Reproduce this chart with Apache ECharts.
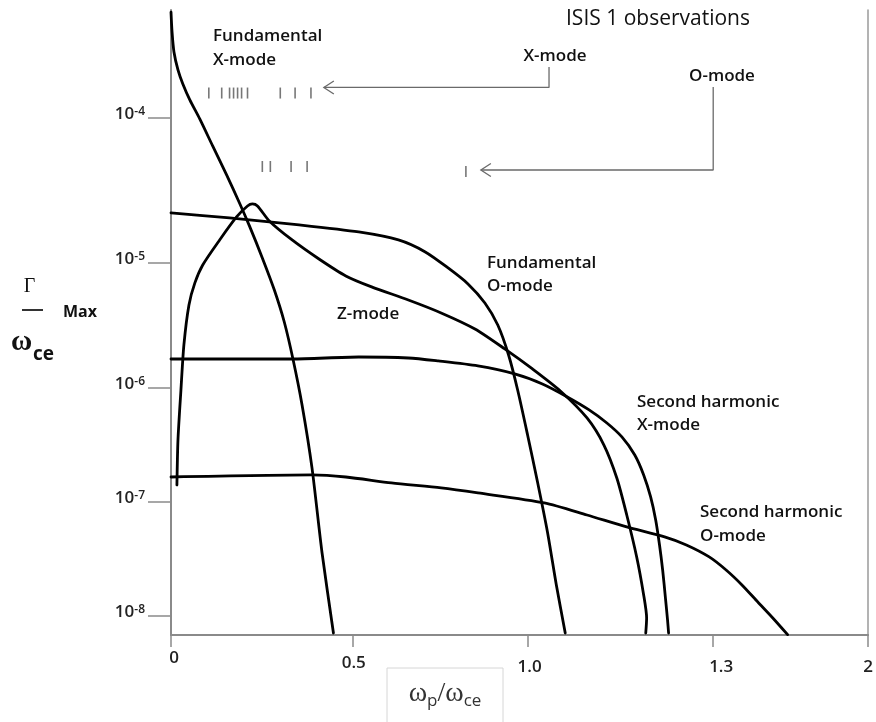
<!DOCTYPE html>
<html><head><meta charset="utf-8">
<script src="https://cdn.jsdelivr.net/npm/echarts@6/dist/echarts.min.js"></script>
<style>html,body{margin:0;padding:0;background:#fff}#c{width:876px;height:722px}</style>
</head><body><div id="c"></div>
<script>
// Schematic axes: x in drawn tick-slot units, y in drawn decades (log10 of Γ/ωce)
const xTickPos = [0, 1.043, 2.046, 3.111, 4];
const xTickLabels = ['0', '0.5', '1.0', '1.3', '2'];
const yTickPos = [-8, -7.084, -6.169, -5.165, -4.0];
const yTickExp = ['-8', '-7', '-6', '-5', '-4'];

const fundamentalX = [[0.000,-3.15],[0.006,-3.309],[0.017,-3.470],[0.040,-3.614],[0.068,-3.727],[0.108,-3.855],[0.165,-4.008],[0.239,-4.225],[0.319,-4.458],[0.393,-4.683],[0.450,-4.867],[0.524,-5.124],[0.593,-5.382],[0.650,-5.639],[0.701,-5.944],[0.752,-6.305],[0.809,-6.811],[0.866,-7.486],[0.932,-8.137]];
const zMode = [[0.034,-6.948],[0.040,-6.586],[0.057,-6.185],[0.074,-5.823],[0.103,-5.502],[0.137,-5.325],[0.182,-5.181],[0.279,-4.980],[0.376,-4.795],[0.439,-4.707],[0.467,-4.691],[0.496,-4.707],[0.564,-4.827],[0.695,-4.980],[0.849,-5.133],[1.003,-5.269],[1.151,-5.357],[1.362,-5.462],[1.550,-5.566],[1.744,-5.695],[1.915,-5.855],[2.074,-6.016],[2.234,-6.193],[2.387,-6.410],[2.484,-6.627],[2.558,-6.892],[2.615,-7.189],[2.672,-7.526],[2.712,-7.831],[2.729,-8.016],[2.724,-8.137]];
const fundamentalO = [[0.000,-4.763],[0.336,-4.803],[0.735,-4.859],[1.077,-4.916],[1.305,-4.980],[1.459,-5.076],[1.590,-5.205],[1.704,-5.333],[1.801,-5.486],[1.875,-5.663],[1.937,-5.904],[1.989,-6.185],[2.046,-6.546],[2.103,-6.924],[2.160,-7.325],[2.211,-7.751],[2.262,-8.137]];
const secondX = [[0.000,-5.936],[0.695,-5.936],[1.077,-5.920],[1.362,-5.928],[1.533,-5.952],[1.761,-5.992],[1.972,-6.056],[2.131,-6.137],[2.274,-6.241],[2.399,-6.345],[2.501,-6.450],[2.587,-6.562],[2.661,-6.707],[2.712,-6.867],[2.752,-7.044],[2.781,-7.229],[2.803,-7.430],[2.821,-7.631],[2.838,-7.871],[2.849,-8.032],[2.855,-8.137]];
const secondO = [[0.000,-6.884],[0.809,-6.867],[1.003,-6.884],[1.265,-6.932],[1.550,-6.972],[1.761,-7.012],[2.142,-7.092],[2.387,-7.189],[2.615,-7.285],[2.832,-7.365],[2.957,-7.430],[3.088,-7.526],[3.185,-7.631],[3.276,-7.751],[3.367,-7.888],[3.453,-8.016],[3.538,-8.150]];

// ISIS 1 observations
const obsXmode = [[0.217,-3.80],[0.291,-3.80],[0.336,-3.80],[0.359,-3.80],[0.382,-3.80],[0.405,-3.80],[0.439,-3.80],[0.627,-3.80],[0.712,-3.80],[0.803,-3.80]];
const obsOmode = [[0.524,-4.39],[0.570,-4.39],[0.689,-4.39],[0.781,-4.39],[1.692,-4.43]];

// annotation arrows (label foot -> corner -> tip)
const arrowXmode = [[2.169,-3.590],[2.169,-3.755],[0.877,-3.755]];
const arrowOmode = [[3.111,-3.751],[3.111,-4.418],[1.778,-4.418]];

const chart = echarts.init(document.getElementById('c'), null, {renderer: 'canvas'});
const axisGray = '#8a8a8a';
const curveStyle = {color: '#000', width: 2.8, cap: 'round', join: 'round'};
function curve(name, data) {
  return {name, type: 'line', data, smooth: 0.25, symbol: 'none', lineStyle: curveStyle, z: 3, silent: true};
}
function arrowLine(name, data) {
  return {name, type: 'line', data, smooth: false, symbol: 'none', lineStyle: {color: '#6a6a6a', width: 1.3}, z: 2, silent: true};
}
function obs(name, data) {
  return {name, type: 'scatter', data, symbol: 'rect', symbolSize: [1.6, 11], itemStyle: {color: '#555'}, z: 2, silent: true};
}

const option = {
  animation: false,
  backgroundColor: '#fff',
  grid: {left: 171, right: 3, top: 10, bottom: 87, containLabel: false},
  xAxis: {
    type: 'value', min: 0, max: 4,
    axisLine: {show: true, lineStyle: {color: axisGray, width: 2}},
    axisTick: {show: true, customValues: xTickPos, length: 12, lineStyle: {color: axisGray, width: 1.5}},
    axisLabel: {
      customValues: xTickPos, showMinLabel: true, showMaxLabel: true,
      margin: 32, verticalAlign: 'middle',
      fontFamily: 'Open Sans', fontSize: 17, fontWeight: 600, color: '#222',
      formatter: v => {
        const i = xTickPos.findIndex(p => Math.abs(p - v) < 1e-6);
        return i < 0 ? '' : '{t' + i + '|' + xTickLabels[i] + '}';
      },
      rich: {t0: {padding: [0, 0, 18, 6]}, t1: {padding: [0, 0, 7, 2]}, t2: {padding: [0, 0, 0, 4]}, t3: {padding: [0, 0, 0, 16]}, t4: {}}
    },
    splitLine: {show: false}
  },
  yAxis: [{
    type: 'value', min: -8.153, max: -3.133,
    axisLine: {show: true, lineStyle: {color: axisGray, width: 2}},
    axisTick: {show: true, customValues: yTickPos, length: 23, lineStyle: {color: axisGray, width: 1.5}},
    axisLabel: {
      customValues: yTickPos, showMinLabel: true, showMaxLabel: true,
      margin: 26, verticalAlign: 'middle', padding: [0, 0, 8, 0],
      fontFamily: 'Open Sans', fontSize: 17, fontWeight: 600, color: '#222',
      formatter: v => {
        const i = yTickPos.findIndex(p => Math.abs(p - v) < 1e-6);
        return i < 0 ? '' : '{b|10}{s|' + yTickExp[i] + '}';
      },
      rich: {b: {fontSize: 17, lineHeight: 16}, s: {fontSize: 12, lineHeight: 12, verticalAlign: 'top'}}
    },
    splitLine: {show: false}
  }, {
    type: 'value', min: -8.153, max: -3.133, position: 'right',
    axisLine: {show: true, lineStyle: {color: '#9a9a9a', width: 1.5}},
    axisTick: {show: false}, axisLabel: {show: false}, splitLine: {show: false}
  }],
  series: [
    curve('Fundamental X-mode', fundamentalX),
    curve('Z-mode', zMode),
    curve('Fundamental O-mode', fundamentalO),
    curve('Second harmonic X-mode', secondX),
    curve('Second harmonic O-mode', secondO),
    obs('X-mode observations', obsXmode),
    obs('O-mode observations', obsOmode),
    arrowLine('X-mode arrow', arrowXmode),
    arrowLine('O-mode arrow', arrowOmode)
  ]
};
chart.setOption(option);

const lab = (id, text, x, y, opts) => Object.assign({
  type: 'text', id, z: 10, silent: true,
  style: Object.assign({text, x, y, fill: '#111', font: '600 17px "Open Sans"', align: 'left', verticalAlign: 'middle', textAlign: 'left', textVerticalAlign: 'middle'}, opts || {})
});

function chevron(id, tipData) {
  const t = chart.convertToPixel({gridIndex: 0}, tipData);
  return {type: 'polyline', id, z: 5, silent: true,
    shape: {points: [[t[0] + 10, t[1] - 6.5], [t[0], t[1]], [t[0] + 10, t[1] + 6.5]]},
    style: {stroke: '#6a6a6a', lineWidth: 1.3, fill: null}};
}

const graphics = [
  lab('title', 'ISIS 1 observations', 658, 19, {font: '21px "Open Sans"', align: 'center', textAlign: 'center'}),
  lab('fx', 'Fundamental\nX-mode', 213, 24, {verticalAlign: 'top', textVerticalAlign: 'top', lineHeight: 24}),
  lab('xm', 'X-mode', 555, 56, {align: 'center', textAlign: 'center'}),
  lab('om', 'O-mode', 722, 76, {align: 'center', textAlign: 'center'}),
  lab('fo', 'Fundamental\nO-mode', 487, 251.5, {verticalAlign: 'top', textVerticalAlign: 'top', lineHeight: 23}),
  lab('zm', 'Z-mode', 337, 314),
  lab('sx', 'Second harmonic\nX-mode', 637, 390.5, {verticalAlign: 'top', textVerticalAlign: 'top', lineHeight: 23}),
  lab('so', 'Second harmonic\nO-mode', 700, 500, {verticalAlign: 'top', textVerticalAlign: 'top', lineHeight: 24}),
  // y-axis title
  lab('gam', 'Γ', 29.5, 287, {font: '20px "Liberation Serif"', align: 'center', textAlign: 'center', fill: '#111'}),
  {type: 'line', id: 'bar', silent: true, shape: {x1: 22, y1: 310, x2: 43, y2: 310}, style: {stroke: '#333', lineWidth: 2}},
  lab('max', 'Max', 63, 312, {font: 'bold 16px "Open Sans"'}),
  lab('om1', 'ω', 11, 343, {font: 'bold 29px "Liberation Serif"'}),
  lab('om2', 'ce', 33, 355, {font: 'bold 19px "Open Sans"'}),
  // x-axis title
  {type: 'rect', id: 'xbox', silent: true, shape: {x: 387, y: 668, width: 116, height: 70}, style: {stroke: '#d6d6d6', lineWidth: 1, fill: null}},
  {type: 'text', id: 'xt', silent: true, z: 10, style: {
    text: '{w|ω}{s|p}{w|/ω}{s|ce}', x: 445, y: 694, align: 'center', textAlign: 'center', verticalAlign: 'middle', textVerticalAlign: 'middle', fill: '#333',
    rich: {w: {fontFamily: 'Liberation Serif', fontSize: 28, fill: '#333'}, s: {fontFamily: 'Open Sans', fontSize: 17, fill: '#333', padding: [14, 0, 0, 0]}}
  }},
  chevron('ahx', arrowXmode[arrowXmode.length - 1]),
  chevron('aho', arrowOmode[arrowOmode.length - 1])
];
chart.setOption({graphic: graphics});
</script></body></html>
